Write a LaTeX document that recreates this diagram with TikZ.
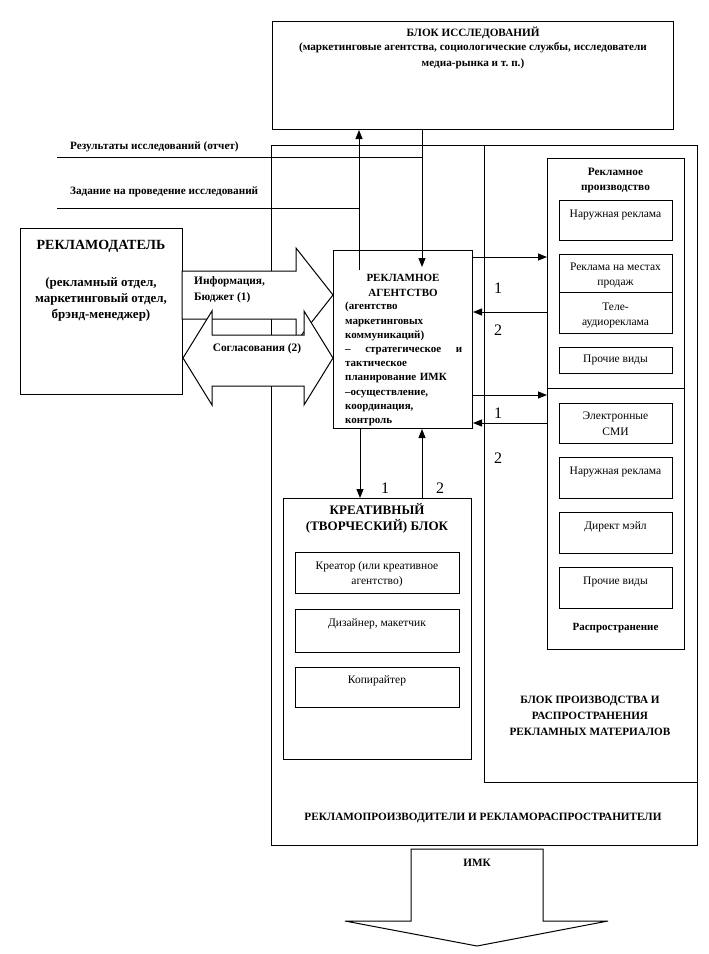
\documentclass[tikz,border=0pt]{standalone}
\usepackage{fontspec}
\setmainfont{Liberation Serif}
\usetikzlibrary{arrows.meta}
\begin{document}
\begin{tikzpicture}[x=1pt,y=-1pt,
  box/.style={draw, line width=1pt, inner sep=0pt, anchor=north west, fill=white},
  bt/.style={font=\fontsize{11.2}{16}\selectfont\bfseries, inner sep=0pt, align=center},
  rt/.style={font=\fontsize{11.5}{15.5}\selectfont, inner sep=0pt, align=center},
  num/.style={font=\fontsize{16}{16}\selectfont, inner sep=0pt},
  conn/.style={line width=1pt},
  arr/.style={line width=1pt, -{Triangle[length=9pt,width=7pt]}},
  blockarrow/.style={draw, line width=1pt, fill=white, line join=miter},
]
\useasboundingbox (0,0) rectangle (709,954);

% main boxes
\node[box, minimum width=426pt, minimum height=700pt] (outer) at (271,145) {};
\node[box, minimum width=213pt, minimum height=637pt] (prodblk) at (484,145) {};
\node[box, minimum width=401pt, minimum height=108pt] (research) at (272,21) {};
\node[box, minimum width=162pt, minimum height=166pt] (adv) at (20,228) {};
\node[box, minimum width=139pt, minimum height=178pt] (agency) at (333,250) {};
\node[box, minimum width=137pt, minimum height=230pt] (rekprod) at (547,158) {};
\node[box, minimum width=137pt, minimum height=261pt] (rasp) at (547,388) {};
\node[box, minimum width=188pt, minimum height=261pt] (creative) at (283,498) {};

% production sub-boxes
\node[box, minimum width=113pt, minimum height=40pt] (pb1) at (559,200) {};
\node[box, minimum width=113pt, minimum height=38pt] (pb2) at (559,254) {};
\node[box, minimum width=113pt, minimum height=41pt] (pb3) at (559,292) {};
\node[box, minimum width=113pt, minimum height=26pt] (pb4) at (559,347) {};
% distribution sub-boxes
\node[box, minimum width=113pt, minimum height=40pt] (db1) at (559,403) {};
\node[box, minimum width=113pt, minimum height=41pt] (db2) at (559,457) {};
\node[box, minimum width=113pt, minimum height=41pt] (db3) at (559,512) {};
\node[box, minimum width=113pt, minimum height=41pt] (db4) at (559,567) {};
% creative sub-boxes
\node[box, minimum width=164pt, minimum height=41pt] (cb1) at (295,552) {};
\node[box, minimum width=164pt, minimum height=43pt] (cb2) at (295,609) {};
\node[box, minimum width=164pt, minimum height=40pt] (cb3) at (295,667) {};

% block arrows between advertiser and agency
\draw[blockarrow] (182,271) -- (296,271) -- (296,248) -- (333,295) -- (296,342) -- (296,319) -- (182,319) -- cycle;
\draw[blockarrow] (183,358) -- (212,311) -- (212,335) -- (304,335) -- (304,311) -- (333,358) -- (304,405) -- (304,386) -- (212,386) -- (212,405) -- cycle;
% bottom IMK arrow
\draw[blockarrow] (411,849) -- (543,849) -- (543,921) -- (608,921) -- (477,946) -- (345,921) -- (411,921) -- cycle;

% connectors to research block
\coordinate (zadL) at (57,208);
\coordinate (resL) at (57,157);
\coordinate (vup) at (359,270);
\coordinate (vdn) at (422,267);
\draw[arr] (vup) -- (vup |- research.south);
\draw[conn] (zadL) -- (vup |- zadL);
\draw[arr] (vdn |- research.south) -- (vdn);
\draw[conn] (resL) -- (vdn |- resL);

% agency <-> production / distribution
\coordinate (r1) at (0,257);
\coordinate (l1) at (0,312);
\coordinate (r2) at (0,395);
\coordinate (l2) at (0,423);
\draw[arr] (agency.east |- r1) -- (rekprod.west |- r1);
\draw[arr] (rekprod.west |- l1) -- (agency.east |- l1);
\draw[arr] (agency.east |- r2) -- (rasp.west |- r2);
\draw[arr] (rasp.west |- l2) -- (agency.east |- l2);

% agency <-> creative
\coordinate (c1) at (360,0);
\coordinate (c2) at (422,0);
\draw[arr] (c1 |- agency.south) -- (c1 |- creative.north);
\draw[arr] (c2 |- creative.north) -- (c2 |- agency.south);

% texts
\node[bt] (restitle) at (473,33) {БЛОК ИССЛЕДОВАНИЙ};
\node[bt] (ressub) at (473,56) {(маркетинговые агентства, социологические службы, исследователи\\медиа-рынка и т.\ п.)};
\node[bt, anchor=west] (restxt) at (70,147) {Результаты исследований (отчет)};
\node[bt, anchor=west] (zadtxt) at (70,192) {Задание на проведение исследований};

\node[font=\fontsize{14}{16}\selectfont\bfseries, inner sep=0pt] (advtitle) at (101,246) {РЕКЛАМОДАТЕЛЬ};
\node[bt, font=\fontsize{13}{16}\selectfont\bfseries] (advsub) at (101,299) {(рекламный отдел,\\маркетинговый отдел,\\брэнд-менеджер)};

\node[bt, font=\fontsize{11.4}{16}\selectfont\bfseries, align=left, anchor=west] (info) at (194,290) {Информация,\\Бюджет (1)};
\node[bt, font=\fontsize{11.4}{16}\selectfont\bfseries] (sogl) at (257,349) {Согласования (2)};

\node[bt, font=\fontsize{11}{15}\selectfont\bfseries] (agtitle) at (403,285.5) {РЕКЛАМНОЕ\\АГЕНТСТВО};
\node[font=\fontsize{11}{14.2}\selectfont\bfseries, inner sep=0pt, align=left, anchor=north west, text width=117pt] (agbody) at (345,302) {(агентство\\маркетинговых\\коммуникаций)\\\leavevmode\hbox to 117pt{–\hfill стратегическое\hfill и}\\тактическое\\планирование ИМК\\–осуществление,\\координация,\\контроль};

\node[num] (n1a) at (498,288) {1};
\node[num] (n2a) at (498,330) {2};
\node[num] (n1b) at (498,413) {1};
\node[num] (n2b) at (498,458) {2};
\node[num] (n1c) at (385,488) {1};
\node[num] (n2c) at (440,488) {2};

\node[bt, font=\fontsize{11.3}{15}\selectfont\bfseries] (rptitle) at (615.5,180.5) {Рекламное\\производство};
\node[rt] (pt1) at (615.5,215) {Наружная реклама};
\node[rt] (pt2) at (615.5,275.5) {Реклама на местах\\продаж};
\node[rt] (pt3) at (615.5,315.5) {Теле-\\аудиореклама};
\node[rt] (pt4) at (615.5,360) {Прочие виды};

\node[rt] (dt1) at (615.5,423.5) {Электронные\\СМИ};
\node[rt] (dt2) at (615.5,472) {Наружная реклама};
\node[rt] (dt3) at (615.5,527) {Директ мэйл};
\node[rt] (dt4) at (615.5,582) {Прочие виды};
\node[bt, font=\fontsize{11}{15}\selectfont\bfseries] (rasptitle) at (615.5,628) {Распространение};

\node[bt, font=\fontsize{13}{16}\selectfont\bfseries] (crtitle) at (377,518) {КРЕАТИВНЫЙ\\(ТВОРЧЕСКИЙ) БЛОК};
\node[rt] (ct1) at (377,574) {Креатор (или креативное\\агентство)};
\node[rt] (ct2) at (377,624) {Дизайнер, макетчик};
\node[rt] (ct3) at (377,681) {Копирайтер};

\node[bt] (pbtitle) at (590,716) {БЛОК ПРОИЗВОДСТВА И\\РАСПРОСТРАНЕНИЯ\\РЕКЛАМНЫХ МАТЕРИАЛОВ};
\node[bt] (outtitle) at (483,818) {РЕКЛАМОПРОИЗВОДИТЕЛИ И РЕКЛАМОРАСПРОСТРАНИТЕЛИ};
\node[bt] (imk) at (477,863) {ИМК};
\end{tikzpicture}
\end{document}
